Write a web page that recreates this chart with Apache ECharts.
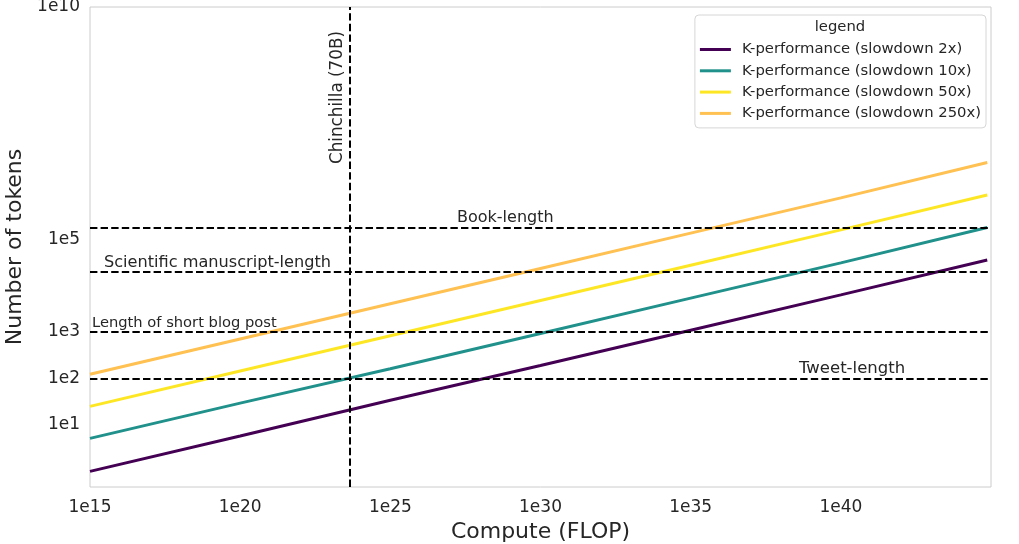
<!DOCTYPE html>
<html>
<head>
<meta charset="utf-8">
<script src="https://cdn.jsdelivr.net/npm/echarts@6/dist/echarts.min.js"></script>
<style>
  html, body { margin: 0; padding: 0; background: #ffffff; }
  #chart { width: 1019px; height: 544px; }
</style>
</head>
<body>
<div id="chart"></div>
<script>
// ---------------- data ----------------
const computeFLOP = [1e15, 1e20, 1e25, 1e30, 1e35, 1e40, 7.5e44];
const seriesNames = [
  'K-performance (slowdown 2x)',
  'K-performance (slowdown 10x)',
  'K-performance (slowdown 50x)',
  'K-performance (slowdown 250x)'
];
const tokensSlowdown2x   = [1.0, 5.75, 33.9, 190, 1096, 6310, 35480];
const tokensSlowdown10x  = [5.13, 29.5, 162, 933, 5370, 30900, 177800];
const tokensSlowdown50x  = [25.1, 144.5, 832, 4790, 27540, 158500, 891000];
const tokensSlowdown250x = [123, 708, 4074, 23440, 134900, 776200, 4467000];

const xTickValues = [1e15, 1e20, 1e25, 1e30, 1e35, 1e40, 1e45];
const yTickValues = [1e1, 1e2, 1e3, 1e5, 1e10];

const refLineNames  = ['Book-length', 'Scientific manuscript-length', 'Length of short blog post', 'Tweet-length'];
const refLineTokens = [1.8e5, 2e4, 1e3, 1e2];

const chinchillaName = 'Chinchilla (70B)';
const chinchillaFLOP = 4.3e23;

const legendTitle = 'legend';
const xAxisTitle = 'Compute (FLOP)';
const yAxisTitle = 'Number of tokens';

// ---------------- styles ----------------
const FONT = 'DejaVu Sans';
const TEXT = '#262626';
const seriesColors = ['#440154', '#21918c', '#fde725', '#fec152'];
const refLabelStyle = {
  'Book-length': { fontSize: 16, dx: 367 },
  'Scientific manuscript-length': { fontSize: 16.15, dx: 14 },
  'Length of short blog post': { fontSize: 14.7, dx: 2 },
  'Tweet-length': { fontSize: 16.5, dx: 709 }
};
const dashLine = { color: '#000000', width: 2, type: [7.4, 3.2], opacity: 1 };

const expLabel = v => '1e' + Math.round(Math.log10(v));

const allTokens = [tokensSlowdown2x, tokensSlowdown10x, tokensSlowdown50x, tokensSlowdown250x];

const lineSeries = seriesNames.map((name, i) => ({
  name: name,
  type: 'line',
  data: computeFLOP.map((x, j) => [x, allTokens[i][j]]),
  showSymbol: false,
  symbol: 'none',
  lineStyle: { color: seriesColors[i], width: 3 },
  itemStyle: { color: seriesColors[i] },
  z: 3,
  silent: true
}));

const refMarkData = refLineNames.map((name, i) => ({
  name: name,
  yAxis: refLineTokens[i],
  label: {
    show: true,
    formatter: name,
    position: 'insideStartTop',
    distance: [refLabelStyle[name].dx, 1],
    fontSize: refLabelStyle[name].fontSize,
    fontFamily: FONT,
    color: TEXT
  }
}));
refMarkData.push({
  name: chinchillaName,
  xAxis: chinchillaFLOP,
  label: {
    show: true,
    formatter: chinchillaName,
    position: 'insideEndTop',
    distance: [24, 3],
    fontSize: 16.8,
    fontFamily: FONT,
    color: TEXT
  }
});

const refSeries = {
  name: 'reference lines',
  type: 'line',
  data: [],
  silent: true,
  z: 2,
  markLine: {
    silent: true,
    symbol: ['none', 'none'],
    animation: false,
    lineStyle: dashLine,
    emphasis: { disabled: true },
    data: refMarkData
  }
};

const chart = echarts.init(document.getElementById('chart'), null, { renderer: 'canvas' });
chart.setOption({
  animation: false,
  backgroundColor: '#ffffff',
  textStyle: { fontFamily: FONT, color: TEXT },
  grid: {
    left: 90, right: 28, top: 7, bottom: 57,
    containLabel: false,
    outerBoundsMode: 'none',
    show: true, borderColor: '#cccccc', borderWidth: 1, backgroundColor: 'transparent'
  },
  xAxis: {
    type: 'log',
    logBase: 10,
    min: 1e15,
    max: 1e45,
    name: xAxisTitle,
    nameLocation: 'middle',
    nameGap: 27,
    nameTextStyle: { fontSize: 22, color: TEXT, fontFamily: FONT },
    axisLine: { show: false },
    axisTick: { show: false },
    splitLine: { show: false },
    minorTick: { show: false },
    axisLabel: {
      customValues: xTickValues,
      formatter: expLabel,
      fontSize: 17, color: TEXT, fontFamily: FONT, margin: 12
    }
  },
  yAxis: {
    type: 'log',
    logBase: 10,
    min: 0.46,
    max: 1e10,
    name: yAxisTitle,
    nameLocation: 'middle',
    nameGap: 56,
    nameRotate: 90,
    nameTextStyle: { fontSize: 22, color: TEXT, fontFamily: FONT },
    axisLine: { show: false },
    axisTick: { show: false },
    splitLine: { show: false },
    axisLabel: {
      customValues: yTickValues,
      formatter: expLabel,
      fontSize: 17, color: TEXT, fontFamily: FONT, margin: 10,
      padding: [4, 0, 0, 0]
    }
  },
  legend: {
    data: seriesNames,
    orient: 'vertical',
    right: 33,
    top: 15,
    padding: [27, 5, 7, 5],
    itemWidth: 31,
    itemHeight: 3,
    itemGap: 6.3,
    icon: 'rect',
    backgroundColor: 'rgba(255,255,255,0.8)',
    borderColor: '#d6d6d6',
    borderWidth: 1,
    borderRadius: 4,
    selectedMode: false,
    textStyle: { fontSize: 14.8, color: TEXT, fontFamily: FONT, padding: [0, 0, 0, 6] }
  },
  graphic: [{
    type: 'text',
    x: 840,
    y: 27,
    z: 100,
    zlevel: 0,
    style: {
      text: legendTitle, fontSize: 14.8, fontFamily: FONT, fill: TEXT,
      align: 'center', verticalAlign: 'middle'
    }
  }],
  series: [refSeries].concat(lineSeries)
});
</script>
</body>
</html>
